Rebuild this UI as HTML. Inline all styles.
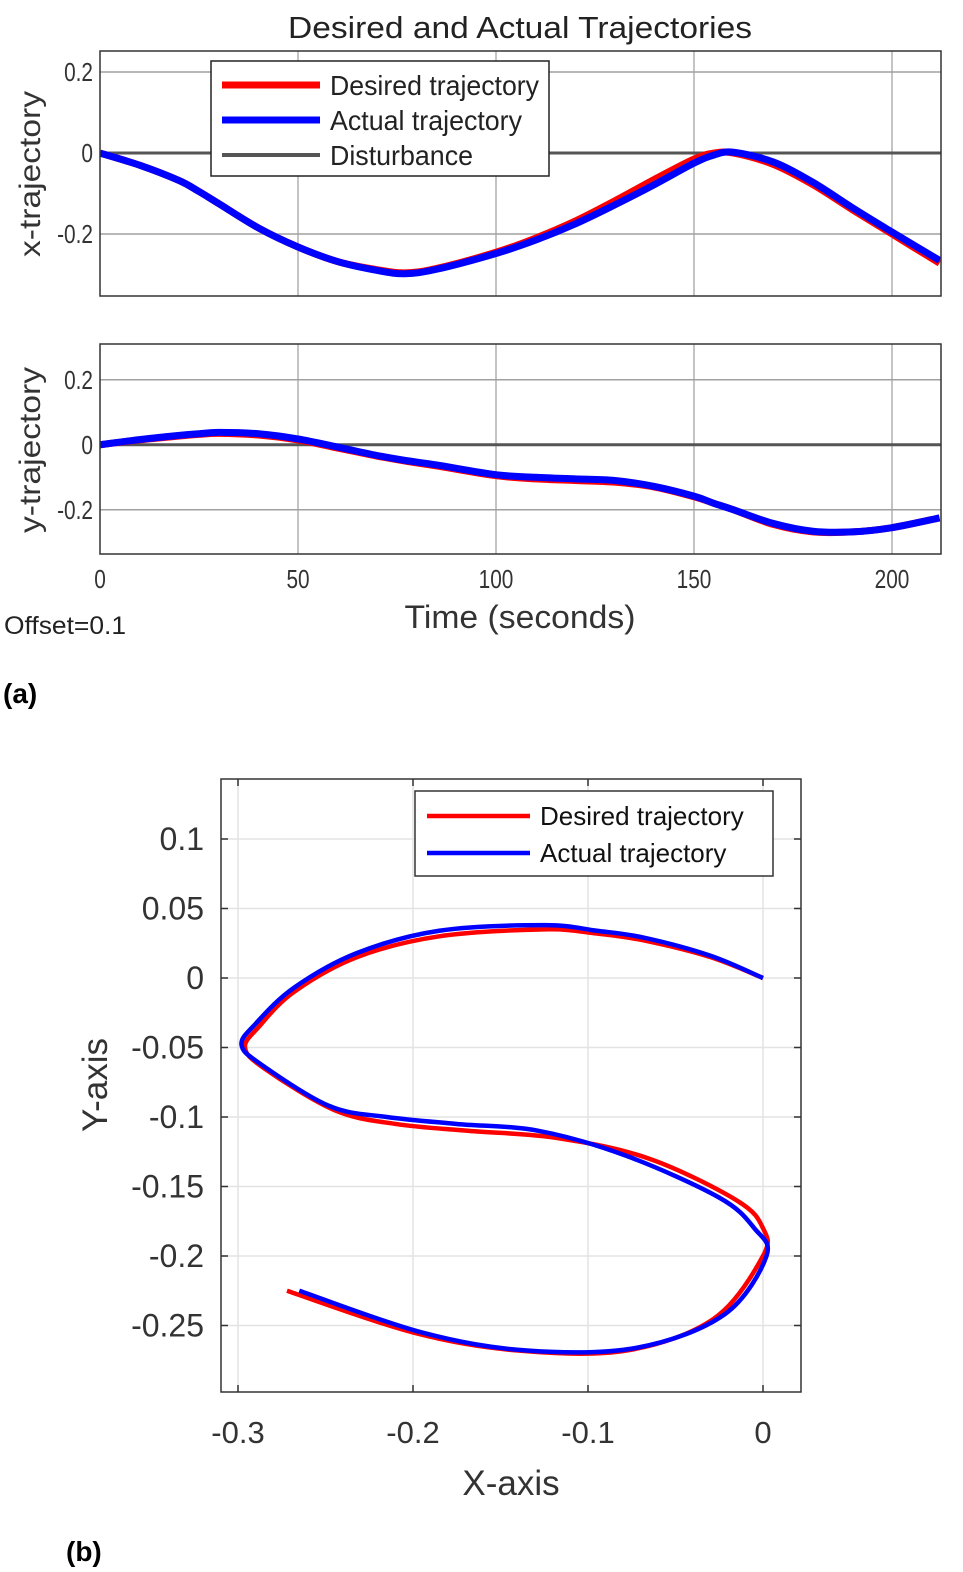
<!DOCTYPE html>
<html><head><meta charset="utf-8">
<style>
html,body{margin:0;padding:0;background:#fff;}
svg{display:block;font-family:"Liberation Sans",Arial,sans-serif;}
</style></head>
<body>
<svg id="fig" width="963" height="1572" viewBox="0 0 963 1572">
<g id="pa"></g>
<g id="pb"></g>
</svg>
<script>
// ---- data ----
const times = [0,10,20,25,30,40,50,60,70,77,85,100,110,120,130,140,150,155,160,170,180,190,200,212];
const xDesired = [0,-0.03,-0.068,-0.095,-0.125,-0.185,-0.232,-0.268,-0.288,-0.296,-0.285,-0.245,-0.21,-0.168,-0.118,-0.065,-0.015,0,0,-0.028,-0.078,-0.14,-0.2,-0.272];
const xActual  = [0,-0.03,-0.068,-0.095,-0.125,-0.185,-0.232,-0.268,-0.29,-0.298,-0.287,-0.248,-0.215,-0.175,-0.128,-0.078,-0.025,-0.005,0.002,-0.022,-0.072,-0.135,-0.195,-0.265];
const yDesired = [0,0.015,0.027,0.032,0.035,0.03,0.015,-0.01,-0.035,-0.05,-0.065,-0.095,-0.105,-0.11,-0.115,-0.13,-0.16,-0.18,-0.2,-0.245,-0.268,-0.268,-0.255,-0.225];
const yActual  = [0,0.016,0.029,0.034,0.038,0.034,0.018,-0.007,-0.033,-0.048,-0.062,-0.092,-0.1,-0.105,-0.11,-0.128,-0.158,-0.18,-0.2,-0.242,-0.266,-0.268,-0.255,-0.225];
const timeTicks = [0,50,100,150,200];
const trajTicks = [0.2,0,-0.2];
const bxTicks = [-0.3,-0.2,-0.1,0];
const byTicks = [0.1,0.05,0,-0.05,-0.1,-0.15,-0.2,-0.25];
const legendA = ["Desired trajectory","Actual trajectory","Disturbance"];
const legendB = ["Desired trajectory","Actual trajectory"];

const NS="http://www.w3.org/2000/svg";
function mk(parent,tag,attrs,text){const e=document.createElementNS(NS,tag);for(const k in attrs)e.setAttribute(k,attrs[k]);if(text!==undefined)e.textContent=text;parent.appendChild(e);return e;}
function condense(el,f){const w=el.getComputedTextLength();el.setAttribute('textLength',(w*f).toFixed(1));el.setAttribute('lengthAdjust','spacingAndGlyphs');}
function smooth(pts){
  let d="M"+pts[0][0].toFixed(2)+","+pts[0][1].toFixed(2);
  for(let i=0;i<pts.length-1;i++){
    const p0=pts[Math.max(i-1,0)],p1=pts[i],p2=pts[i+1],p3=pts[Math.min(i+2,pts.length-1)];
    const c1=[p1[0]+(p2[0]-p0[0])/6,p1[1]+(p2[1]-p0[1])/6];
    const c2=[p2[0]-(p3[0]-p1[0])/6,p2[1]-(p3[1]-p1[1])/6];
    d+="C"+c1[0].toFixed(2)+","+c1[1].toFixed(2)+" "+c2[0].toFixed(2)+","+c2[1].toFixed(2)+" "+p2[0].toFixed(2)+","+p2[1].toFixed(2);
  }
  return d;
}
const pa=document.getElementById('pa'), pb=document.getElementById('pb');

// ---- panel a ----
const tx = t => 100 + t*3.96;
mk(pa,'text',{x:520,y:38,'font-size':31,'text-anchor':'middle',fill:'#222',textLength:464,lengthAdjust:'spacingAndGlyphs',},'Desired and Actual Trajectories');

function subplot(top,bottom,yTop,yBot,ys,label,labelY,desired,actual,name){
  const g=mk(pa,'g',{});
  
  
  const sy=v=> top + (yTop - v)/(yTop-yBot)*(bottom-top);
  mk(g,'rect',{x:100,y:top,width:841,height:bottom-top,fill:'#fff'});
  timeTicks.forEach(t=>{if(t>0){const l=mk(g,'line',{x1:tx(t),x2:tx(t),y1:top,y2:bottom,stroke:'#8a8a8a','stroke-width':1});}});
  ys.forEach(v=>{const l=mk(g,'line',{x1:100,x2:941,y1:sy(v),y2:sy(v),stroke:'#a0a0a0','stroke-width':1.5});
    const tl=mk(g,'text',{x:93,y:sy(v)+9,'font-size':26,'text-anchor':'end',fill:'#333'},v===0?'0':String(v));condense(tl,0.8);});
  const dist=mk(g,'line',{x1:100,x2:941,y1:sy(0),y2:sy(0),stroke:'#555','stroke-width':3});
  
  const cp='clip'+name;const c=mk(g,'clipPath',{id:cp});mk(c,'rect',{x:100,y:top,width:841,height:bottom-top});
  const d=mk(g,'path',{d:smooth(times.map((t,i)=>[tx(t),sy(desired[i])])),fill:'none',stroke:'#f00','stroke-width':7,'clip-path':`url(#${cp})`});
  
  const a=mk(g,'path',{d:smooth(times.map((t,i)=>[tx(t),sy(actual[i])])),fill:'none',stroke:'#00f','stroke-width':7,'clip-path':`url(#${cp})`});
  
  mk(g,'rect',{x:100,y:top,width:841,height:bottom-top,fill:'none',stroke:'#333','stroke-width':1.5});
  const yl=mk(g,'text',{x:0,y:0,'font-size':30,'text-anchor':'middle',fill:'#333',textLength:166,lengthAdjust:'spacingAndGlyphs',transform:`translate(40,${labelY}) rotate(-90)`},label);
  
}
subplot(51,296,0.252,-0.353,trajTicks,'x-trajectory',174,xDesired,xActual,'x-trajectory-plot');
subplot(344,554,0.31,-0.336,trajTicks,'y-trajectory',450,yDesired,yActual,'y-trajectory-plot');
timeTicks.forEach(t=>{const l=mk(pa,'text',{x:tx(t),y:588,'font-size':26,'text-anchor':'middle',fill:'#333'},String(t));condense(l,0.8);});
mk(pa,'text',{x:520,y:628,'font-size':32,'text-anchor':'middle',fill:'#333',textLength:231,lengthAdjust:'spacingAndGlyphs',},'Time (seconds)');
mk(pa,'text',{x:4,y:634,'font-size':25,fill:'#222',textLength:122,lengthAdjust:'spacingAndGlyphs',},'Offset=0.1');
mk(pa,'text',{x:3,y:703,'font-size':28,'font-weight':'bold',fill:'#000',},'(a)');
// legend a
const lgA=mk(pa,'g',{});

mk(lgA,'rect',{x:211,y:61,width:338,height:115,fill:'#fff',stroke:'#222','stroke-width':1.5});
const colA=['#f00','#00f','#555'];
const lenA=[209,192,143];
legendA.forEach((s,i)=>{const y=85+i*35;
  const ln=mk(lgA,'line',{x1:222,x2:320,y1:y,y2:y,stroke:colA[i],'stroke-width':i<2?7:4});
  const t=mk(lgA,'text',{x:330,y:y+10,'font-size':28,fill:'#222',textLength:lenA[i],lengthAdjust:'spacingAndGlyphs'},s);});

// ---- panel b ----
const bx=v=>763+v*1750, by=v=>978-v*1390;
mk(pb,'rect',{x:221,y:779,width:580,height:613,fill:'#fff'});
bxTicks.forEach(v=>{const l=mk(pb,'line',{x1:bx(v),x2:bx(v),y1:779,y2:1392,stroke:'#e3e3e3','stroke-width':1.5});
  mk(pb,'line',{x1:bx(v),x2:bx(v),y1:779,y2:786,stroke:'#333','stroke-width':1.5});mk(pb,'line',{x1:bx(v),x2:bx(v),y1:1385,y2:1392,stroke:'#333','stroke-width':1.5});
  const t=mk(pb,'text',{x:bx(v),y:1443,'font-size':31,'text-anchor':'middle',fill:'#333'},String(v));});
byTicks.forEach(v=>{const l=mk(pb,'line',{x1:221,x2:801,y1:by(v),y2:by(v),stroke:'#e3e3e3','stroke-width':1.5});
  mk(pb,'line',{x1:221,x2:228,y1:by(v),y2:by(v),stroke:'#333','stroke-width':1.5});mk(pb,'line',{x1:794,x2:801,y1:by(v),y2:by(v),stroke:'#333','stroke-width':1.5});
  const t=mk(pb,'text',{x:204,y:by(v)+11,'font-size':32,'text-anchor':'end',fill:'#333'},v===0?'0':String(v));});
const pd=mk(pb,'path',{d:smooth(times.map((t,i)=>[bx(xDesired[i]),by(yDesired[i])])),fill:'none',stroke:'#f00','stroke-width':4.5,'stroke-linejoin':'round'});

const pa2=mk(pb,'path',{d:smooth(times.map((t,i)=>[bx(xActual[i]),by(yActual[i])])),fill:'none',stroke:'#00f','stroke-width':4.5,'stroke-linejoin':'round'});

mk(pb,'rect',{x:221,y:779,width:580,height:613,fill:'none',stroke:'#333','stroke-width':1.5});
const lgB=mk(pb,'g',{});

mk(lgB,'rect',{x:415,y:791,width:358,height:85,fill:'#fff',stroke:'#333','stroke-width':1.5});
legendB.forEach((s,i)=>{const y=816+i*37;
  const ln=mk(lgB,'line',{x1:427,x2:530,y1:y,y2:y,stroke:i?'#00f':'#f00','stroke-width':4.5});
  const t=mk(lgB,'text',{x:540,y:y+9,'font-size':26,fill:'#111'},s);});
mk(pb,'text',{x:511,y:1495,'font-size':35,'text-anchor':'middle',fill:'#333',},'X-axis');
mk(pb,'text',{x:0,y:0,'font-size':35,'text-anchor':'middle',fill:'#333',transform:'translate(107,1085) rotate(-90)',},'Y-axis');
mk(pb,'text',{x:66,y:1561,'font-size':28,'font-weight':'bold',fill:'#000',},'(b)');
</script>
</body></html>
